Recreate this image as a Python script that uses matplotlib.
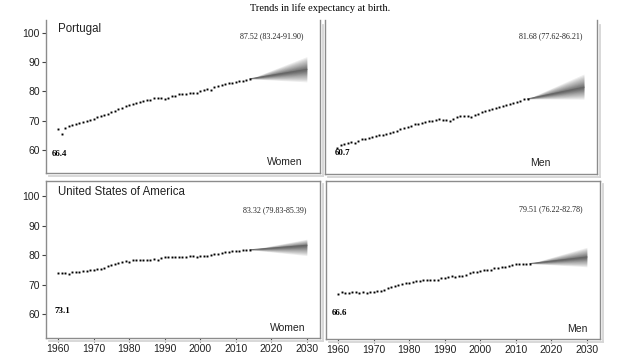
import matplotlib
matplotlib.use("Agg")
import matplotlib.pyplot as plt
import matplotlib.transforms as mtransforms
from matplotlib.lines import Line2D

# Les données
years = list(range(1960, 2015))

pt_women = [67.1, 65.4, 67.5, 68.1, 68.5, 68.9, 69.3, 69.6, 70.0, 70.3,
            70.7, 71.1, 71.5, 72.0, 72.4, 72.9, 73.4, 73.9, 74.4, 74.9,
            75.3, 75.7, 76.0, 76.3, 76.6, 76.9, 77.2, 77.6, 77.8, 77.9,
            77.5, 77.6, 78.3, 78.5, 79.1, 79.0, 79.1, 79.3, 79.5, 79.6,
            80.0, 80.6, 80.8, 80.6, 81.6, 81.8, 82.3, 82.6, 82.8, 83.0,
            83.3, 83.6, 83.6, 84.0, 84.3]
pt_men = [61.1, 61.9, 62.4, 62.6, 62.9, 62.5, 63.2, 64.0, 64.2, 64.5,
          64.7, 65.0, 65.3, 65.5, 65.8, 66.0, 66.4, 66.8, 67.3, 67.8,
          68.2, 68.6, 69.1, 69.2, 69.5, 69.8, 70.0, 70.3, 70.5, 70.8,
          70.6, 70.5, 70.3, 71.0, 71.5, 72.0, 71.9, 71.8, 71.7, 72.3,
          72.7, 73.2, 73.6, 74.0, 74.3, 74.7, 75.0, 75.3, 75.7, 76.0,
          76.4, 76.8, 77.1, 77.5, 77.7]
us_women = [73.8, 74.0, 73.8, 73.7, 74.1, 74.2, 74.3, 74.7, 74.5, 74.9,
            75.1, 75.3, 75.4, 75.6, 76.2, 76.8, 77.1, 77.4, 77.6, 78.1,
            77.8, 78.3, 78.5, 78.4, 78.5, 78.4, 78.5, 78.6, 78.5, 79.0,
            79.2, 79.3, 79.5, 79.2, 79.4, 79.4, 79.5, 79.6, 79.6, 79.5,
            79.6, 79.7, 79.7, 79.9, 80.3, 80.3, 80.6, 80.9, 80.9, 81.3,
            81.4, 81.5, 81.6, 81.6, 81.8]
us_men = [67.2, 67.8, 67.5, 67.3, 67.6, 67.6, 67.5, 67.7, 67.4, 67.6,
          67.8, 68.0, 68.1, 68.4, 69.0, 69.5, 69.8, 70.1, 70.3, 70.7,
          70.6, 71.0, 71.4, 71.5, 71.6, 71.6, 71.7, 71.9, 71.9, 72.3,
          72.6, 72.8, 73.0, 72.9, 73.1, 73.1, 73.6, 74.1, 74.4, 74.5,
          74.8, 75.0, 75.1, 75.3, 75.7, 75.8, 76.0, 76.3, 76.5, 76.8,
          77.0, 77.1, 77.2, 77.2, 77.3]

series = [pt_women, pt_men, us_women, us_men]
first_labels = ["66.4", "60.7", "73.1", "66.6"]
countries = ["Portugal", "", "United States of America", ""]
sexes = ["Women", "Men", "Women", "Men"]

# Prévisions 2030 : médiane et intervalle
fc_year = 2030
fc_median = [87.52, 81.68, 83.32, 79.51]
fc_low = [83.24, 77.62, 79.83, 76.22]
fc_high = [91.90, 86.21, 85.39, 82.78]

fan_levels = [1.0, 0.9, 0.8, 0.7, 0.6, 0.5, 0.42, 0.34, 0.27, 0.2, 0.14, 0.08]

SERIF = "Liberation Serif"
SANS = "Liberation Sans"

fig = plt.figure(figsize=(6.4, 3.6), dpi=100)
fig.patch.set_facecolor("white")

positions = [
    [46 / 640, 1 - 173 / 360, 274 / 640, 153 / 360],
    [325 / 640, 1 - 174 / 360, 272 / 640, 154 / 360],
    [46 / 640, 1 - 338 / 360, 274 / 640, 157 / 360],
    [326 / 640, 1 - 339 / 360, 274 / 640, 158 / 360],
]
ylims = [(52.1, 104.4), (52.1, 104.6), (51.9, 105.1), (51.9, 105.1)]
note_pos = [(0.938, 0.895), (0.948, 0.895), (0.952, 0.817), (0.935, 0.822)]
sex_pos = [(2023.7, 55.9), (2017.7, 55.9), (2024.7, 55.2), (2027.2, 55.2)]
first_pos = [(1958.3, 58.5), (1959.5, 59.3), (1959.0, 61.0), (1958.2, 60.8)]

for i, values in enumerate(series):
    ax = fig.add_axes(positions[i])
    ax.set_xlim(1956.6, 2033.7)
    ax.set_ylim(*ylims[i])

    # Éventail de la prévision
    start = values[-1]
    x_fan = [years[-1], fc_year]
    for f in fan_levels:
        lo = fc_median[i] - f * (fc_median[i] - fc_low[i])
        hi = fc_median[i] + f * (fc_high[i] - fc_median[i])
        ax.fill_between(x_fan, [start, lo], [start, hi], color="black",
                        alpha=0.065, linewidth=0)
    ax.plot(x_fan, [start, fc_median[i]], color="#666666", lw=0.7)

    # Points observés
    ax.plot(years, values, linestyle="none", marker="s", ms=1.4,
            color="black", markeredgewidth=0)

    ax.text(note_pos[i][0], note_pos[i][1],
            f"{fc_median[i]:.2f} ({fc_low[i]:.2f}-{fc_high[i]:.2f})",
            transform=ax.transAxes, ha="right", va="center",
            fontsize=5.8, family=SERIF, color="#222222")
    if countries[i]:
        ax.text(0.044, 0.94 if i == 0 else 0.932, countries[i],
                transform=ax.transAxes, ha="left", va="center",
                fontsize=8.3, family=SANS, color="#222222")
    ax.text(sex_pos[i][0], sex_pos[i][1], sexes[i], ha="center",
            va="center", fontsize=7.5, family=SANS, color="#222222")
    ax.text(first_pos[i][0], first_pos[i][1], first_labels[i], ha="left",
            va="center", fontsize=6.5, family=SERIF, fontweight="bold")

    # Axes
    ax.set_yticks([60, 70, 80, 90, 100])
    ax.set_xticks(range(1960, 2031, 10))
    ax.tick_params(length=3, width=0.8, color="#444444", labelsize=7.5,
                   labelcolor="#222222", pad=1.5)
    for lab in ax.get_xticklabels() + ax.get_yticklabels():
        lab.set_family(SANS)
    if i % 2 == 1:
        ax.tick_params(axis="y", left=False, labelleft=False)
    if i < 2:
        ax.tick_params(axis="x", bottom=False, labelbottom=False)

    for name, sp in ax.spines.items():
        sp.set_color("#8c8c8c")
        sp.set_linewidth(1.0)
    if i < 2:
        ax.spines["top"].set_visible(False)

    # Ombre du cadre
    shadow = mtransforms.offset_copy(ax.transAxes, fig=fig, x=3, y=-3,
                                     units="dots")
    y_top = 1.0 if i >= 2 else 0.985
    ax.add_line(Line2D([1, 1], [0, y_top], transform=shadow, color="#d6d6d6",
                       lw=1.3, clip_on=False))
    ax.add_line(Line2D([0, 1], [0, 0], transform=shadow, color="#d6d6d6",
                       lw=1.3, clip_on=False))

fig.text(0.5, 1 - 8 / 360, "Trends in life expectancy at birth.",
         ha="center", va="center", fontsize=7.5, family=SERIF)

fig.savefig("out.png", dpi=100, facecolor="white")
